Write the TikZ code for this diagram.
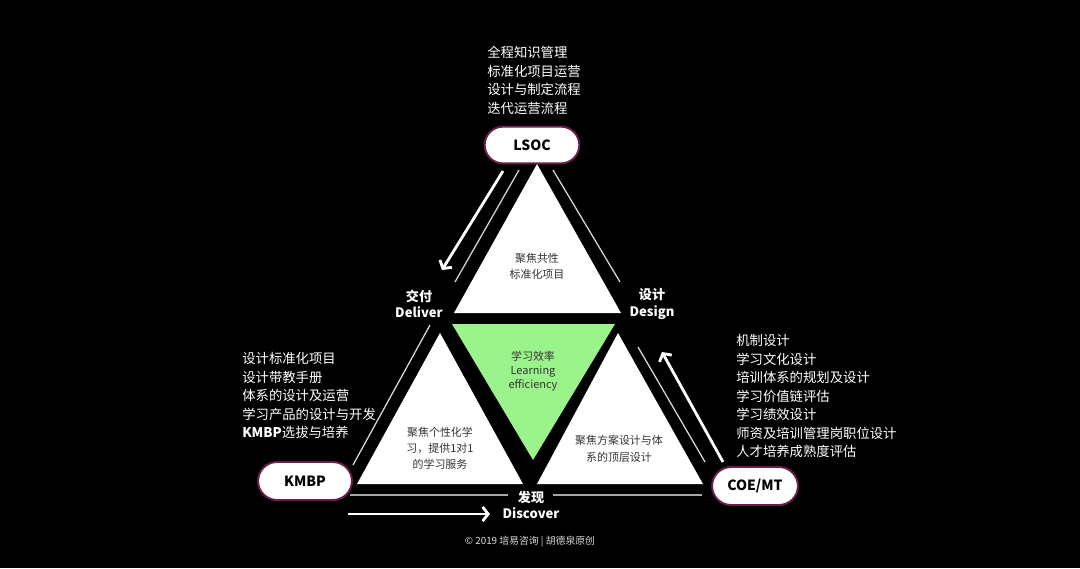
\documentclass[tikz,border=0pt]{standalone}
\usepackage{fontspec}
\setmainfont{Noto Sans CJK SC}
\usetikzlibrary{arrows.meta, positioning, shapes.misc}
\definecolor{pillrim}{HTML}{6B1E4C}
\definecolor{effgreen}{HTML}{9BF38B}
\definecolor{thinline}{HTML}{D8D8D8}
\tikzset{
    pill/.style={
        rounded rectangle,
        draw=pillrim,
        line width=1.4pt,
        fill=white,
        minimum width=2.6cm,
        minimum height=0.92cm,
        font=\fontsize{10}{12}\selectfont\bfseries
    },
    tasklist/.style={
        anchor=north west,
        inner sep=0pt,
        align=left,
        text=white,
        font=\fontsize{9.5}{13.2}\selectfont
    },
    phase/.style={
        align=center,
        text=white,
        inner sep=1pt,
        font=\fontsize{9.3}{11.4}\selectfont\bfseries
    },
    coretext/.style={
        align=center,
        text=black!80,
        font=\fontsize{7.8}{11.5}\selectfont
    },
    rim/.style={
        draw=thinline,
        line width=0.9pt
    },
    flow/.style={
        draw=white,
        line width=2pt,
        -{Straight Barb[length=4pt,width=10pt]}
    }
}

\begin{document}
\begin{tikzpicture}[x=0.025cm, y=-0.025cm]

\fill[black] (0,0) rectangle (1080,568);
\useasboundingbox (0,0) rectangle (1080,568);

% four triangles
\fill[white] (537,164) -- (454,313) -- (621,313) -- cycle;
\fill[effgreen] (452,324) -- (615,324) -- (533,460) -- cycle;
\fill[white] (440,333) -- (357,484) -- (523,484) -- cycle;
\fill[white] (618,333) -- (537,484) -- (703,484) -- cycle;

% outer rim
\coordinate (rimL1) at (519,170);
\coordinate (rimL2) at (455,282);
\coordinate (rimL3) at (430,325);
\coordinate (rimL4) at (353,465);
\coordinate (rimR1) at (553,170);
\coordinate (rimR2) at (620,282);
\coordinate (rimR3) at (638,347);
\coordinate (rimR4) at (705,462);
\coordinate (rimB1) at (350,495);
\coordinate (rimB2) at (508,495);
\coordinate (rimB3) at (553,495);
\coordinate (rimB4) at (702,495);
\draw[rim] (rimL1) -- (rimL2);
\draw[rim] (rimL3) -- (rimL4);
\draw[rim] (rimR1) -- (rimR2);
\draw[rim] (rimR3) -- (rimR4);
\draw[rim, draw=white!65!black] (rimB1) -- (rimB2);
\draw[rim, draw=white!65!black] (rimB3) -- (rimB4);

% cycle arrows
\coordinate (dlvS) at (503,171);
\coordinate (dlvE) at (442,270);
\coordinate (dsgS) at (723,462);
\coordinate (dsgE) at (662,352);
\coordinate (dscS) at (348,514);
\coordinate (dscE) at (490,514);
\draw[flow] (dlvS) -- (dlvE);
\draw[flow] (dsgS) -- (dsgE);
\draw[flow] (dscS) -- (dscE);

\node[pill] (lsoc) at (532,145) {LSOC};
\node[pill, minimum width=2.58cm, minimum height=0.95cm] (kmbp) at (305,481) {KMBP};
\node[pill, minimum width=2.38cm, minimum height=0.95cm] (coe) at (755,486) {COE/MT};

\node[coretext] (common) at (537,266) {聚焦共性\\标准化项目};
\node[coretext, font=\fontsize{7.8}{10}\selectfont] (eff) at (533,371) {学习效率\\Learning\\efficiency};
\node[coretext] (personal) at (440,448) {聚焦个性化学\\习，提供1对1\\的学习服务};
\node[coretext, font=\fontsize{7.8}{12}\selectfont] (toplevel) at (619,449) {聚焦方案设计与体\\系的顶层设计};

\node[phase] (deliver) at (419,304) {交付\\Deliver};
\node[phase] (design) at (652,304) {设计\\Design};
\node[phase] (discover) at (531,505) {发现\\Discover};

\node[tasklist] (lsoclist) at (487,46) {全程知识管理\\标准化项目运营\\设计与制定流程\\迭代运营流程};
\node[tasklist] (kmbplist) at (242,352) {设计标准化项目\\设计带教手册\\体系的设计及运营\\学习产品的设计与开发\\\textbf{KMBP}选拔与培养};
\node[tasklist] (coelist) at (736,334) {机制设计\\学习文化设计\\培训体系的规划及设计\\学习价值链评估\\学习绩效设计\\师资及培训管理岗职位设计\\人才培养成熟度评估};

\node[font=\fontsize{7}{8}\selectfont, text=white!85!black] (credit) at (530,542) {© 2019 培易咨询 | 胡德泉原创};

\end{tikzpicture}
\end{document}
